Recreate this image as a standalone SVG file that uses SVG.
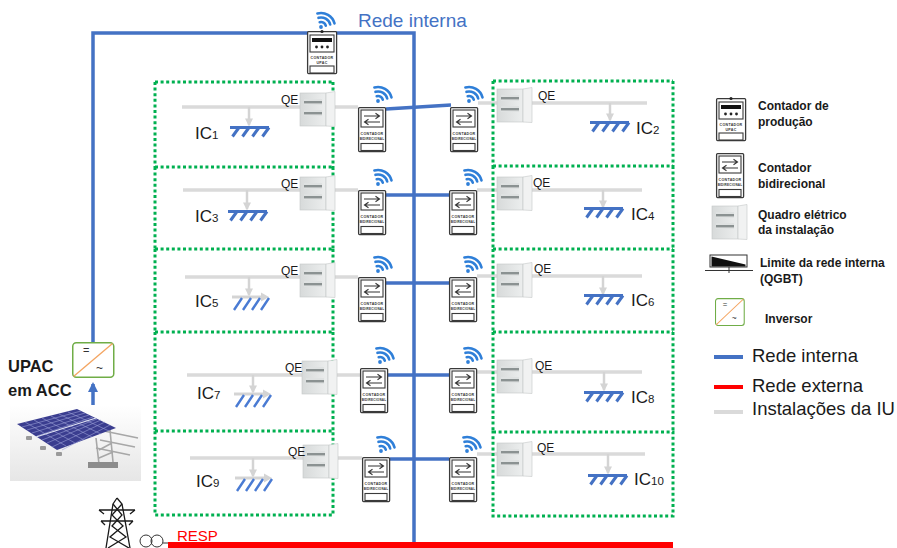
<svg xmlns="http://www.w3.org/2000/svg" width="897" height="548" viewBox="0 0 897 548">
<style>
  .blue{stroke:#4472C4;stroke-width:3.5;fill:none}
  .gline{stroke:#DADADA;stroke-width:3.5;fill:none}
  .darr{stroke:#D4D4D4;stroke-width:2.5;fill:none}
  .cell{fill:none;stroke:#00B050;stroke-width:3;stroke-dasharray:3 2.6}
  .t{font-family:"Liberation Sans",Arial,sans-serif;fill:#1a1a1a}
  .qe{font-size:12px}
  .ic{font-size:17px}
  .sub{font-size:11.5px}
  .leg{font-size:12px;font-weight:bold}
  .legl{font-size:18.5px}
  .mt{font-family:"Liberation Sans",Arial,sans-serif;font-weight:bold;fill:#333;text-anchor:middle}
  .ms{stroke:#3a3a3a;fill:#fff}
</style>
<defs>
  <marker id="ahg" viewBox="0 0 10 10" refX="8" refY="5" markerWidth="9" markerHeight="8" markerUnits="userSpaceOnUse" orient="auto">
    <path d="M0 0L10 5L0 10z" fill="#D4D4D4"/>
  </marker>
  <marker id="ahb" viewBox="0 0 10 10" refX="8" refY="5" markerWidth="11" markerHeight="10" markerUnits="userSpaceOnUse" orient="auto">
    <path d="M0 0L10 5L0 10z" fill="#4472C4"/>
  </marker>
  <linearGradient id="qeBody" x1="0" y1="0" x2="1" y2="0">
    <stop offset="0" stop-color="#d7dada"/>
    <stop offset="1" stop-color="#eceeee"/>
  </linearGradient>
  <linearGradient id="photoBg" x1="0" y1="0" x2="0" y2="1">
    <stop offset="0" stop-color="#ffffff"/>
    <stop offset="1" stop-color="#e6e6e6"/>
  </linearGradient>
  <!-- wifi glyph, dot at origin -->
  <g id="wifi" fill="none" stroke="#2f7fd8" stroke-width="2.6" stroke-linecap="round">
    <circle cx="0" cy="0" r="1.9" fill="#2f7fd8" stroke="none"/>
    <path d="M-1.3 -4.8A5 5 0 0 1 4.8 -1.3"/>
    <path d="M-2.5 -9.2A9.5 9.5 0 0 1 9.2 -2.5"/>
    <path d="M-3.6 -13.5A14 14 0 0 1 13.5 -3.6"/>
  </g>
  <!-- bidirectional meter -->
  <g id="mBi">
    <rect class="ms" x="0.6" y="0.6" width="27" height="44" rx="1" stroke-width="1.3"/>
    <rect class="ms" x="3" y="3" width="22" height="17" stroke-width="1.1"/>
    <path d="M6 9H21M17.5 6.3L21.5 9L17.5 11.7M22 15H7M10.5 12.3L6.5 15L10.5 17.7" stroke="#333" stroke-width="1.1" fill="none"/>
    <text class="mt" x="14" y="28" font-size="3.6" letter-spacing="0.3">CONTADOR</text>
    <text class="mt" x="14" y="33" font-size="3.1" letter-spacing="0.2">BIDIRECIONAL</text>
    <rect class="ms" x="3" y="36.5" width="22" height="7" stroke-width="1.1"/>
  </g>
  <!-- production meter -->
  <g id="mUp">
    <rect class="ms" x="0.6" y="0.6" width="29" height="42" rx="1" stroke-width="1.3"/>
    <circle cx="15" cy="0.5" r="1.6" fill="#222"/>
    <rect class="ms" x="3" y="4" width="24" height="17" stroke-width="1.1"/>
    <rect x="5" y="7" width="20" height="4" fill="#111"/>
    <circle cx="9.5" cy="16" r="1.4" fill="#222"/>
    <circle cx="15" cy="16" r="1.4" fill="#222"/>
    <circle cx="20.5" cy="16" r="1.4" fill="#222"/>
    <text class="mt" x="15" y="28" font-size="3.6" letter-spacing="0.3">CONTADOR</text>
    <text class="mt" x="15" y="32.5" font-size="3.6" letter-spacing="0.3">UPAC</text>
    <rect class="ms" x="3" y="35" width="24" height="7" stroke-width="1.1"/>
  </g>
  <!-- electrical panel (QE) -->
  <g id="qe">
    <rect x="0" y="1" width="26" height="33" fill="url(#qeBody)" stroke="#c4c7c7" stroke-width="0.6"/>
    <rect x="4" y="7" width="18" height="6" fill="#dfe2e2"/>
    <rect x="4" y="9" width="18" height="2.4" fill="#8b9292"/>
    <rect x="4" y="18" width="18" height="6" fill="#dfe2e2"/>
    <rect x="4" y="20" width="18" height="2.4" fill="#8b9292"/>
    <path d="M26 1L35 -0.5V34.5L26 34z" fill="#f1f2f2" stroke="#c4c7c7" stroke-width="0.6"/>
  </g>
  <!-- load symbol, solid -->
  <g id="gA" stroke="#4472C4" stroke-width="3" fill="none">
    <path d="M0 1.5H39"/>
    <path d="M9 1.5L2.5 10.5M19 1.5L12.5 10.5M29 1.5L22.5 10.5M39 1.5L32.5 10.5"/>
  </g>
  <!-- load symbol, with grey feed arrow -->
  <g id="gB">
    <path d="M0 0H30" stroke="#D4D4D4" stroke-width="3"/>
    <path d="M29 -4.5L37 0L29 4.5z" fill="#D4D4D4"/>
    <path d="M10 1L2 13M19 1L11 13M28 1L20 13M37 1L29 13" stroke="#4a7bd3" stroke-width="2.4" fill="none"/>
  </g>
  <!-- inverter -->
  <g id="inv">
    <rect x="0.75" y="0.75" width="41" height="34.5" rx="3.5" fill="#fff" stroke="#70AD47" stroke-width="1.5"/>
    <path d="M1.5 34.5L40.5 1.5" stroke="#F4A460" stroke-width="1.3"/>
    <text x="11" y="12" font-family="Liberation Sans,Arial,sans-serif" font-size="11" fill="#333">=</text>
    <text x="24" y="30" font-family="Liberation Sans,Arial,sans-serif" font-size="12" fill="#333">~</text>
  </g>
</defs>

<rect width="897" height="548" fill="#fff"/>

<!-- connectors -->
<g id="connectors">
  <!-- installation (grey) feeders -->
  <path class="gline" d="M182 107H358M183 190H358M185 277H358M187 375H360M190 458H362"/>
  <path class="gline" d="M478 103H647M477 190H642M477 276H642M477 372H642M477 454H645"/>
  <!-- drops to loads -->
  <path class="darr" marker-end="url(#ahg)" d="M249 107V125"/>
  <path class="darr" marker-end="url(#ahg)" d="M247 190V209"/>
  <path class="darr" marker-end="url(#ahg)" d="M249 277V295"/>
  <path class="darr" marker-end="url(#ahg)" d="M253 375V392"/>
  <path class="darr" marker-end="url(#ahg)" d="M253 458V476"/>
  <path class="darr" marker-end="url(#ahg)" d="M610 103V120"/>
  <path class="darr" marker-end="url(#ahg)" d="M603 190V207"/>
  <path class="darr" marker-end="url(#ahg)" d="M603 276V294"/>
  <path class="darr" marker-end="url(#ahg)" d="M604 372V390"/>
  <path class="darr" marker-end="url(#ahg)" d="M608 454V473"/>
  <!-- internal network (blue) -->
  <path class="blue" d="M93 342V33H414V548"/>
  <path class="blue" d="M386 109L451 105"/>
  <path class="blue" d="M386 195H449"/>
  <path class="blue" d="M386 283H449"/>
  <path class="blue" d="M388 375H449"/>
  <path class="blue" d="M390 459H449"/>
  <path class="blue" marker-end="url(#ahb)" d="M93 432V384"/>
  <!-- external network (red) -->
  <path d="M168 545H673" stroke="#FF0000" stroke-width="6"/>
</g>

<!-- consumer installations, left column -->
<g id="ic1">
  <path class="cell" d="M155 82H333M155 82V167M333 82V167"/>
  <use href="#qe" x="300" y="92"/>
  <text class="t qe" x="281" y="104">QE</text>
  <use href="#gA" x="230" y="126"/>
  <text class="t ic" x="195" y="139">IC<tspan class="sub">1</tspan></text>
</g>
<g id="ic3">
  <path class="cell" d="M155 167H333M155 167V249M333 167V249"/>
  <use href="#qe" x="300" y="176"/>
  <text class="t qe" x="281" y="188">QE</text>
  <use href="#gA" x="228" y="210"/>
  <text class="t ic" x="195" y="222">IC<tspan class="sub">3</tspan></text>
</g>
<g id="ic5">
  <path class="cell" d="M155 249H333M155 249V332M333 249V332"/>
  <use href="#qe" x="300" y="263"/>
  <text class="t qe" x="281" y="275">QE</text>
  <use href="#gB" x="232" y="297"/>
  <text class="t ic" x="195" y="307">IC<tspan class="sub">5</tspan></text>
</g>
<g id="ic7">
  <path class="cell" d="M155 332H333M155 332V431M333 332V431"/>
  <use href="#qe" x="302" y="360"/>
  <text class="t qe" x="285" y="372">QE</text>
  <use href="#gB" x="234" y="394"/>
  <text class="t ic" x="197" y="399">IC<tspan class="sub">7</tspan></text>
</g>
<g id="ic9">
  <path class="cell" d="M155 431H333V515H155z"/>
  <use href="#qe" x="303" y="444"/>
  <text class="t qe" x="288" y="456">QE</text>
  <use href="#gB" x="235" y="478"/>
  <text class="t ic" x="196" y="487">IC<tspan class="sub">9</tspan></text>
</g>

<!-- consumer installations, right column -->
<g id="ic2">
  <path class="cell" d="M493 81H673M493 81V166M673 81V166"/>
  <use href="#qe" x="497" y="88"/>
  <text class="t qe" x="538" y="100">QE</text>
  <use href="#gA" x="590" y="121"/>
  <text class="t ic" x="636" y="134">IC<tspan class="sub">2</tspan></text>
</g>
<g id="ic4">
  <path class="cell" d="M493 166H673M493 166V249M673 166V249"/>
  <use href="#qe" x="497" y="176"/>
  <text class="t qe" x="533" y="187">QE</text>
  <use href="#gA" x="584" y="207"/>
  <text class="t ic" x="631" y="220">IC<tspan class="sub">4</tspan></text>
</g>
<g id="ic6">
  <path class="cell" d="M493 249H673M493 249V332M673 249V332"/>
  <use href="#qe" x="497" y="263"/>
  <text class="t qe" x="534" y="273">QE</text>
  <use href="#gA" x="584" y="294"/>
  <text class="t ic" x="631" y="306">IC<tspan class="sub">6</tspan></text>
</g>
<g id="ic8">
  <path class="cell" d="M493 332H673M493 332V432M673 332V432"/>
  <use href="#qe" x="497" y="359"/>
  <text class="t qe" x="535" y="370">QE</text>
  <use href="#gA" x="584" y="391"/>
  <text class="t ic" x="631" y="403">IC<tspan class="sub">8</tspan></text>
</g>
<g id="ic10">
  <path class="cell" d="M493 432H673V516H493z"/>
  <use href="#qe" x="497" y="442"/>
  <text class="t qe" x="537" y="452">QE</text>
  <use href="#gA" x="588" y="474"/>
  <text class="t ic" x="634" y="485">IC<tspan class="sub">10</tspan></text>
</g>

<!-- bidirectional meters with telemetry -->
<g id="meters">
  <use href="#mBi" x="358" y="107"/><use href="#wifi" x="378" y="101"/>
  <use href="#mBi" x="450" y="107"/><use href="#wifi" x="469" y="101"/>
  <use href="#mBi" x="358" y="190"/><use href="#wifi" x="378" y="184"/>
  <use href="#mBi" x="449" y="190"/><use href="#wifi" x="468" y="184"/>
  <use href="#mBi" x="358" y="277"/><use href="#wifi" x="378" y="271"/>
  <use href="#mBi" x="449" y="277"/><use href="#wifi" x="468" y="271"/>
  <use href="#mBi" x="360" y="368"/><use href="#wifi" x="380" y="362"/>
  <use href="#mBi" x="449" y="368"/><use href="#wifi" x="468" y="362"/>
  <use href="#mBi" x="362" y="457"/><use href="#wifi" x="381" y="451"/>
  <use href="#mBi" x="449" y="457"/><use href="#wifi" x="467" y="451"/>
</g>

<!-- production meter -->
<g id="contador-upac">
  <use href="#mUp" x="307" y="31"/>
  <use href="#wifi" x="321" y="27"/>
</g>
<text class="t" x="358" y="27" font-size="19" fill="#4472C4" style="fill:#4472C4">Rede interna</text>

<!-- PV generator -->
<g id="upac">
  <rect x="10" y="405" width="131" height="76" fill="url(#photoBg)"/>
  <g fill="#9a9a9a">
    <rect x="26" y="436" width="6" height="4" rx="1"/>
    <rect x="40" y="446" width="6" height="4" rx="1"/>
    <rect x="56" y="452" width="6" height="4" rx="1"/>
  </g>
  <g stroke="#a7a7a7" stroke-width="1.6" fill="none">
    <path d="M96 438L99 464M110 430L113 462M99 450L112 443M99 458L113 452"/>
    <path d="M104 431L138 438M100 440L135 447M96 448L130 455"/>
  </g>
  <rect x="88" y="462" width="30" height="6" fill="#8c8c8c"/>
  <path d="M17 424L77 409L116 428L57 450z" fill="#3a3d8f"/>
  <g stroke="#9aa0d6" stroke-width="0.6" fill="none">
    <path d="M27 430L85 413M37 436L93 417M47 443L101 420M22 427L81 411M32 433L89 415M42 440L97 419M52 447L105 422M62 450L110 425"/>
    <path d="M25 422L66 446M34 420L75 443M42 418L84 440M51 416L92 437M59 414L101 434M68 412L109 431"/>
  </g>
  <path d="M36 437L96 418" stroke="#dfe2f3" stroke-width="1.2"/>
  <text class="t" x="8" y="372" font-size="16.5" font-weight="bold">UPAC</text>
  <text class="t" x="8" y="396" font-size="16.5" font-weight="bold">em ACC</text>
</g>
<g id="inversor">
  <use href="#inv" x="72" y="342"/>
</g>

<!-- grid connection -->
<g id="resp">
  <g stroke="#1a1a1a" stroke-width="1.3" fill="none">
    <path d="M117 498L113 504L106 548M117 498L122 504L130 548"/>
    <path d="M99 510H135M101 521H133M99 510L104 514M135 510L130 514M101 521L105 525M133 521L129 525"/>
    <path d="M113 504L122 515L112 526L126 537L108 548M122 504L112 515L123 526L110 537L129 548"/>
  </g>
  <g stroke="#333" stroke-width="1" fill="none">
    <circle cx="146" cy="541" r="6"/>
    <circle cx="157" cy="541" r="6"/>
    <path d="M163 543H168"/>
  </g>
  <text class="t" x="177" y="541" font-size="15" style="fill:#FF0000">RESP</text>
</g>

<!-- legend -->
<g id="legend">
  <use href="#mUp" x="716" y="98"/>
  <text class="t leg" x="758" y="110">Contador de</text>
  <text class="t leg" x="758" y="126">produção</text>
  <use href="#mBi" x="716" y="153"/>
  <text class="t leg" x="758" y="172">Contador</text>
  <text class="t leg" x="758" y="188">bidirecional</text>
  <use href="#qe" x="712" y="205"/>
  <text class="t leg" x="758" y="219">Quadro elétrico</text>
  <text class="t leg" x="758" y="234">da instalação</text>
  <rect x="710" y="255" width="37" height="12" fill="#fff" stroke="#333" stroke-width="1"/>
  <path d="M711.5 256.5L745.5 264.5V266.5H711.5z" fill="#111"/>
  <path d="M705 270.5H753M729 267V273" stroke="#333" stroke-width="1" fill="none"/>
  <text class="t leg" x="760" y="267">Limite da rede interna</text>
  <text class="t leg" x="760" y="283">(QGBT)</text>
  <use href="#inv" transform="translate(715 298) scale(0.7 0.78)"/>
  <text class="t leg" x="765" y="323">Inversor</text>
  <path d="M714 357H743" stroke="#4472C4" stroke-width="4"/>
  <text class="t legl" x="752" y="362">Rede interna</text>
  <path d="M714 387H743" stroke="#FF0000" stroke-width="4"/>
  <text class="t legl" x="752" y="392">Rede externa</text>
  <path d="M714 412H743" stroke="#DADADA" stroke-width="4"/>
  <text class="t legl" x="752" y="415">Instalações da IU</text>
</g>
</svg>
